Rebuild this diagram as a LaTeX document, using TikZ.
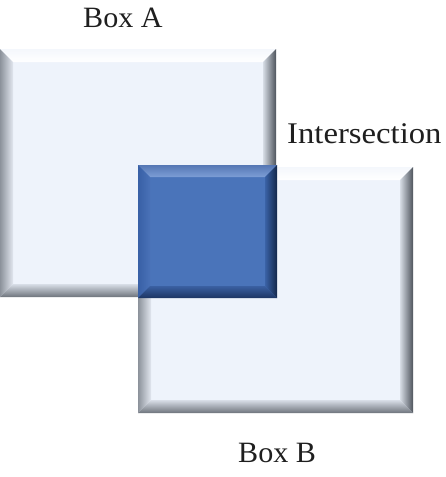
\documentclass[tikz,border=0pt]{standalone}
\usepackage{graphicx}
\usepackage{fontspec}
\setmainfont{Liberation Serif}
\usetikzlibrary{calc}
\definecolor{ltface}{HTML}{EEF3FB}
\definecolor{lttopo}{HTML}{F4F7FC}
\definecolor{lttopi}{HTML}{FFFFFF}
\definecolor{ltlefto}{HTML}{8C929B}
\definecolor{ltlefti}{HTML}{E2E7EF}
\definecolor{ltrighto}{HTML}{4E545C}
\definecolor{ltrighti}{HTML}{D6DCE5}
\definecolor{ltboto}{HTML}{6E747C}
\definecolor{ltboti}{HTML}{D8DEE7}
\definecolor{dkface}{HTML}{4A74BA}
\definecolor{dktopo}{HTML}{5577B4}
\definecolor{dktopi}{HTML}{7D9ED6}
\definecolor{dklefto}{HTML}{3860A6}
\definecolor{dklefti}{HTML}{4A72B8}
\definecolor{dkrighto}{HTML}{13274A}
\definecolor{dkrighti}{HTML}{3A62A6}
\definecolor{dkboto}{HTML}{1C3563}
\definecolor{dkboti}{HTML}{3A60A2}
% x1 y1 x2 y2 bevel prefix
\newcommand{\bevelbox}[6]{%
  \fill[#6face] (#1,#2) rectangle (#3,#4);
  \shade[top color=#6topo,bottom color=#6topi]
    (#1,#2) -- (#3,#2) -- (#3-#5,#2+#5) -- (#1+#5,#2+#5) -- cycle;
  \shade[left color=#6lefto,right color=#6lefti]
    (#1,#2) -- (#1+#5,#2+#5) -- (#1+#5,#4-#5) -- (#1,#4) -- cycle;
  \shade[left color=#6righti,right color=#6righto]
    (#3,#2) -- (#3,#4) -- (#3-#5,#4-#5) -- (#3-#5,#2+#5) -- cycle;
  \shade[top color=#6boti,bottom color=#6boto]
    (#1,#4) -- (#1+#5,#4-#5) -- (#3-#5,#4-#5) -- (#3,#4) -- cycle;
}
\begin{document}
\begin{tikzpicture}[x=1pt,y=-1pt,
  lbl/.style={inner sep=0pt,anchor=base west,text=black!88}]
\useasboundingbox (0,0) rectangle (445,477);
\fill[white] (0,0) rectangle (445,477);
% Box A
\bevelbox{0}{49}{276}{297}{13}{lt}
\coordinate (boxA) at (138,173);
% Box B
\bevelbox{138}{167}{413}{413}{13}{lt}
\coordinate (boxB) at (275.5,290);
% Intersection
\bevelbox{138}{165}{277}{298}{12}{dk}
\coordinate (inter) at (207.5,231.5);
% labels
\node[lbl,font=\fontsize{29.5}{35}\selectfont] (labA) at (83,27) {\scalebox{1.02}[1]{Box A}};
\node[lbl,font=\fontsize{30}{36}\selectfont] (labI) at (287,143) {\scalebox{1.09}[1]{Intersection}};
\node[lbl,font=\fontsize{29.5}{35}\selectfont] (labB) at (238,462) {\scalebox{1.02}[1]{Box B}};
\end{tikzpicture}
\end{document}
